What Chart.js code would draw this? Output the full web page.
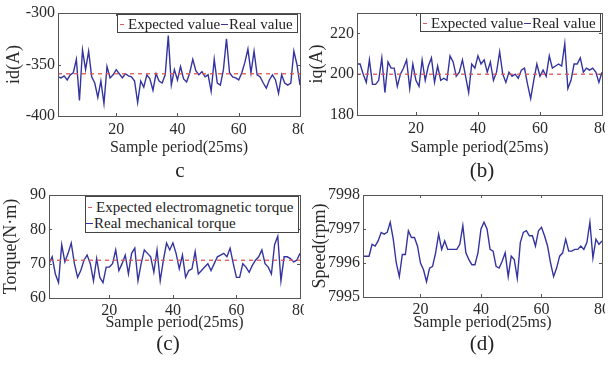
<!DOCTYPE html>
<html><head><meta charset="utf-8">
<script src="https://cdn.jsdelivr.net/npm/chart.js@4.4.1/dist/chart.umd.min.js"></script>
<style>
html,body{margin:0;padding:0;background:#fff}
body{width:610px;height:367px;position:relative;overflow:hidden;font-family:"Liberation Serif","Times New Roman",serif;color:#222}
canvas{position:absolute}
.cap{position:absolute;font-size:21px;line-height:21px;transform:translate(-50%,-50%);white-space:nowrap}
.leg{position:absolute;box-sizing:border-box;border:1px solid #444;background:#fff;font-size:15px;line-height:16px;white-space:nowrap;color:#222}
.leg .row{position:absolute;left:0;display:flex;align-items:center}
.rd{display:inline-block;width:4px;height:0;border-top:1.5px solid #e05a5a;margin:0 4px 0 2px}
.bl{display:inline-block;width:7px;height:0;border-top:1.5px solid #3434a0;margin:0 1px 0 1px}
</style></head>
<body>
<canvas id="ca" width="304" height="157" style="left:0;top:0"></canvas>
<canvas id="cb" width="300" height="157" style="left:305px;top:0"></canvas>
<canvas id="cc" width="304" height="152" style="left:0;top:180px"></canvas>
<canvas id="cd" width="300" height="152" style="left:305px;top:180px"></canvas>

<div class="leg" style="left:117px;top:14px;width:181px;height:19px">
  <div class="row" style="top:1px"><span class="rd"></span>Expected value<span class="bl"></span>Real value</div>
</div>
<div class="leg" style="left:420px;top:13px;width:181px;height:19px">
  <div class="row" style="top:1px"><span class="rd"></span>Expected value<span class="bl"></span>Real value</div>
</div>
<div class="leg" style="left:85px;top:196px;width:214px;height:37px">
  <div class="row" style="top:2px"><span class="rd"></span>Expected electromagnetic torque</div>
  <div class="row" style="top:18px"><span class="bl" style="margin-left:0"></span>Real mechanical torque</div>
</div>

<div class="cap" style="left:180px;top:170px">c</div>
<div class="cap" style="left:482px;top:170px">(b)</div>
<div class="cap" style="left:168px;top:343px">(c)</div>
<div class="cap" style="left:482px;top:343px">(d)</div>

<script>
// ---- data ----
const samples = Array.from({length: 80}, (_, i) => i + 1);
const xTicks = [20, 40, 60, 80];

const idTicks = [-400, -350, -300];
const idExpected = -359;
const idReal = [-362,-363,-361,-365,-360,-358,-345,-385,-336,-355,
                -337,-362,-368,-382,-366,-388,-352,-363,-360,-355,
                -359,-363,-359,-361,-362,-366,-387,-366,-372,-360,
                -364,-375,-359,-366,-368,-360,-322,-370,-355,-365,
                -352,-364,-367,-358,-345,-356,-360,-357,-362,-360,
                -376,-345,-368,-370,-355,-325,-358,-362,-363,-365,
                -358,-348,-335,-358,-337,-360,-362,-368,-373,-365,
                -360,-365,-378,-360,-368,-370,-368,-337,-350,-370];

const iqTicks = [180, 200, 220];
const iqExpected = 200;
const iqReal = [205,205,200,196,207,195,195,197,208,191,
                206,203,203,194,200,203,207,193,205,197,
                194,207,197,204,208,196,204,197,198,197,
                209,206,199,201,207,199,191,205,203,209,
                205,207,201,206,197,201,211,200,196,201,
                199,200,198,202,203,195,188,197,205,199,
                202,199,209,203,204,205,204,215,193,197,
                205,205,208,201,203,202,203,201,196,201];

const tqTicks = [60, 70, 80, 90];
const tqExpected = 71;
const tqReal = [70,72,67,64.5,75.5,70.5,73,76,70,66,
                68,71,72.5,70,65,71.5,66,64.5,69,69,
                70,74,68,70,72.5,67,73,74.5,65,70,
                74,73,72,67.5,74,65,71,76,74,76,
                73,68.5,72.5,66,68,68.5,73.5,67,68,69,
                70,68,70,72,72.5,73,72,74.5,70,66,
                66,70,69,67.5,69.5,71,72,74,70,69,
                67,75.5,78,65,72,72,71.5,70.5,71,73];

const spTicks = [7995, 7996, 7997, 7998];
const spReal = [7996.2,7996.2,7996.2,7996.55,7996.5,7996.65,7996.9,7996.85,7996.9,7997.2,
                7996.7,7996.0,7995.6,7996.25,7996.25,7996.95,7996.75,7996.75,7996.5,7996.0,
                7995.8,7995.45,7995.85,7995.9,7996.3,7996.85,7996.4,7996.65,7996.4,7996.4,
                7996.4,7996.4,7996.55,7997.1,7996.3,7996.1,7995.95,7995.95,7996.3,7997.0,
                7997.2,7997.0,7996.4,7996.35,7995.9,7995.85,7996.05,7996.3,7995.6,7996.2,
                7996.1,7995.55,7996.6,7996.9,7996.95,7996.8,7996.8,7996.5,7996.95,7997.05,
                7996.8,7996.5,7996.0,7995.6,7995.85,7996.2,7996.3,7996.7,7996.35,7996.35,
                7996.4,7996.4,7996.5,7996.4,7996.6,7997.2,7996.15,7996.7,7996.55,7996.65];

// ---- styling ----
const FONT = '"Liberation Serif", "Times New Roman", serif';
const BLUE = 'rgb(52,52,160)';
const RED = 'rgb(225,85,85)';
const TXT = '#2a2a2a';

const framePlugin = {
  id: 'frame',
  afterDraw(chart) {
    const {ctx, chartArea: a, scales} = chart;
    ctx.save();
    ctx.strokeStyle = '#555';
    ctx.lineWidth = 1;
    ctx.strokeRect(Math.round(a.left) + 0.5, Math.round(a.top) + 0.5,
                   Math.round(a.right - a.left), Math.round(a.bottom - a.top));
    ctx.beginPath();
    const L = 3;
    scales.x.ticks.forEach(t => {
      const px = Math.round(scales.x.getPixelForValue(t.value)) + 0.5;
      ctx.moveTo(px, a.bottom); ctx.lineTo(px, a.bottom - L);
      ctx.moveTo(px, a.top); ctx.lineTo(px, a.top + L);
    });
    scales.y.ticks.forEach(t => {
      const py = Math.round(scales.y.getPixelForValue(t.value)) + 0.5;
      ctx.moveTo(a.left, py); ctx.lineTo(a.left + L, py);
      ctx.moveTo(a.right, py); ctx.lineTo(a.right - L, py);
    });
    ctx.stroke();
    ctx.restore();
  }
};

function pts(vals) { return samples.map((s, i) => ({x: s, y: vals[i]})); }
function flat(v) { return [{x: samples[0], y: v}, {x: samples[samples.length - 1], y: v}]; }

function makeChart(id, c) {
  const datasets = [];
  if (c.expected !== undefined) {
    datasets.push({data: flat(c.expected), borderColor: RED, borderWidth: 1.3,
                   borderDash: [4, 4], pointRadius: 0, order: 1});
  }
  datasets.push({data: pts(c.real), borderColor: BLUE, borderWidth: 1.4,
                 pointRadius: 0, tension: 0, order: 2});
  new Chart(document.getElementById(id), {
    type: 'line',
    data: {datasets},
    options: {
      responsive: false, animation: false, devicePixelRatio: 1,
      layout: {padding: {top: c.padTop, right: c.padRight, left: 0, bottom: 0}},
      plugins: {legend: {display: false}, tooltip: {enabled: false}},
      scales: {
        x: {
          type: 'linear', min: 1, max: 80,
          afterBuildTicks: s => { s.ticks = xTicks.map(v => ({value: v})); },
          afterFit: s => { s.height = c.xh; s.paddingLeft = 0; s.paddingRight = 0; },
          grid: {display: false, drawTicks: false}, border: {display: false},
          ticks: {font: {family: FONT, size: 16}, color: TXT, padding: c.xTickPad, maxRotation: 0,
                  callback: v => String(v)},
          title: {display: true, text: 'Sample period(25ms)', color: TXT,
                  font: {family: FONT, size: 16}, padding: 0}
        },
        y: {
          min: c.ticks[0], max: c.max,
          afterBuildTicks: s => { s.ticks = c.ticks.map(v => ({value: v})); },
          afterFit: s => { s.width = c.yw; s.paddingTop = 0; s.paddingBottom = 0; },
          grid: {display: false, drawTicks: false}, border: {display: false},
          ticks: {font: {family: FONT, size: 16}, color: TXT, padding: 3,
                  callback: v => String(v)},
          title: {display: true, text: c.ytitle, color: TXT,
                  font: {family: FONT, size: 18}, padding: {top: c.yTitlePad, bottom: 0}}
        }
      }
    },
    plugins: [framePlugin]
  });
}

makeChart('ca', {real: idReal, expected: idExpected, ticks: idTicks, max: -300,
  ytitle: 'id(A)', padTop: 13, padRight: 4, yw: 58, xh: 41, xTickPad: 4, yTitlePad: 3});
makeChart('cb', {real: iqReal, expected: iqExpected, ticks: iqTicks, max: 230,
  ytitle: 'iq(A)', padTop: 13, padRight: 3, yw: 52, xh: 42, xTickPad: 4, yTitlePad: 1});
makeChart('cc', {real: tqReal, expected: tqExpected, ticks: tqTicks, max: 90,
  ytitle: 'Torque(N·m)', padTop: 15, padRight: 4, yw: 49, xh: 34, xTickPad: 3, yTitlePad: 0});
makeChart('cd', {real: spReal, ticks: spTicks, max: 7998,
  ytitle: 'Speed(rpm)', padTop: 15, padRight: 3, yw: 58, xh: 35, xTickPad: 3, yTitlePad: 4});
</script>
</body></html>
